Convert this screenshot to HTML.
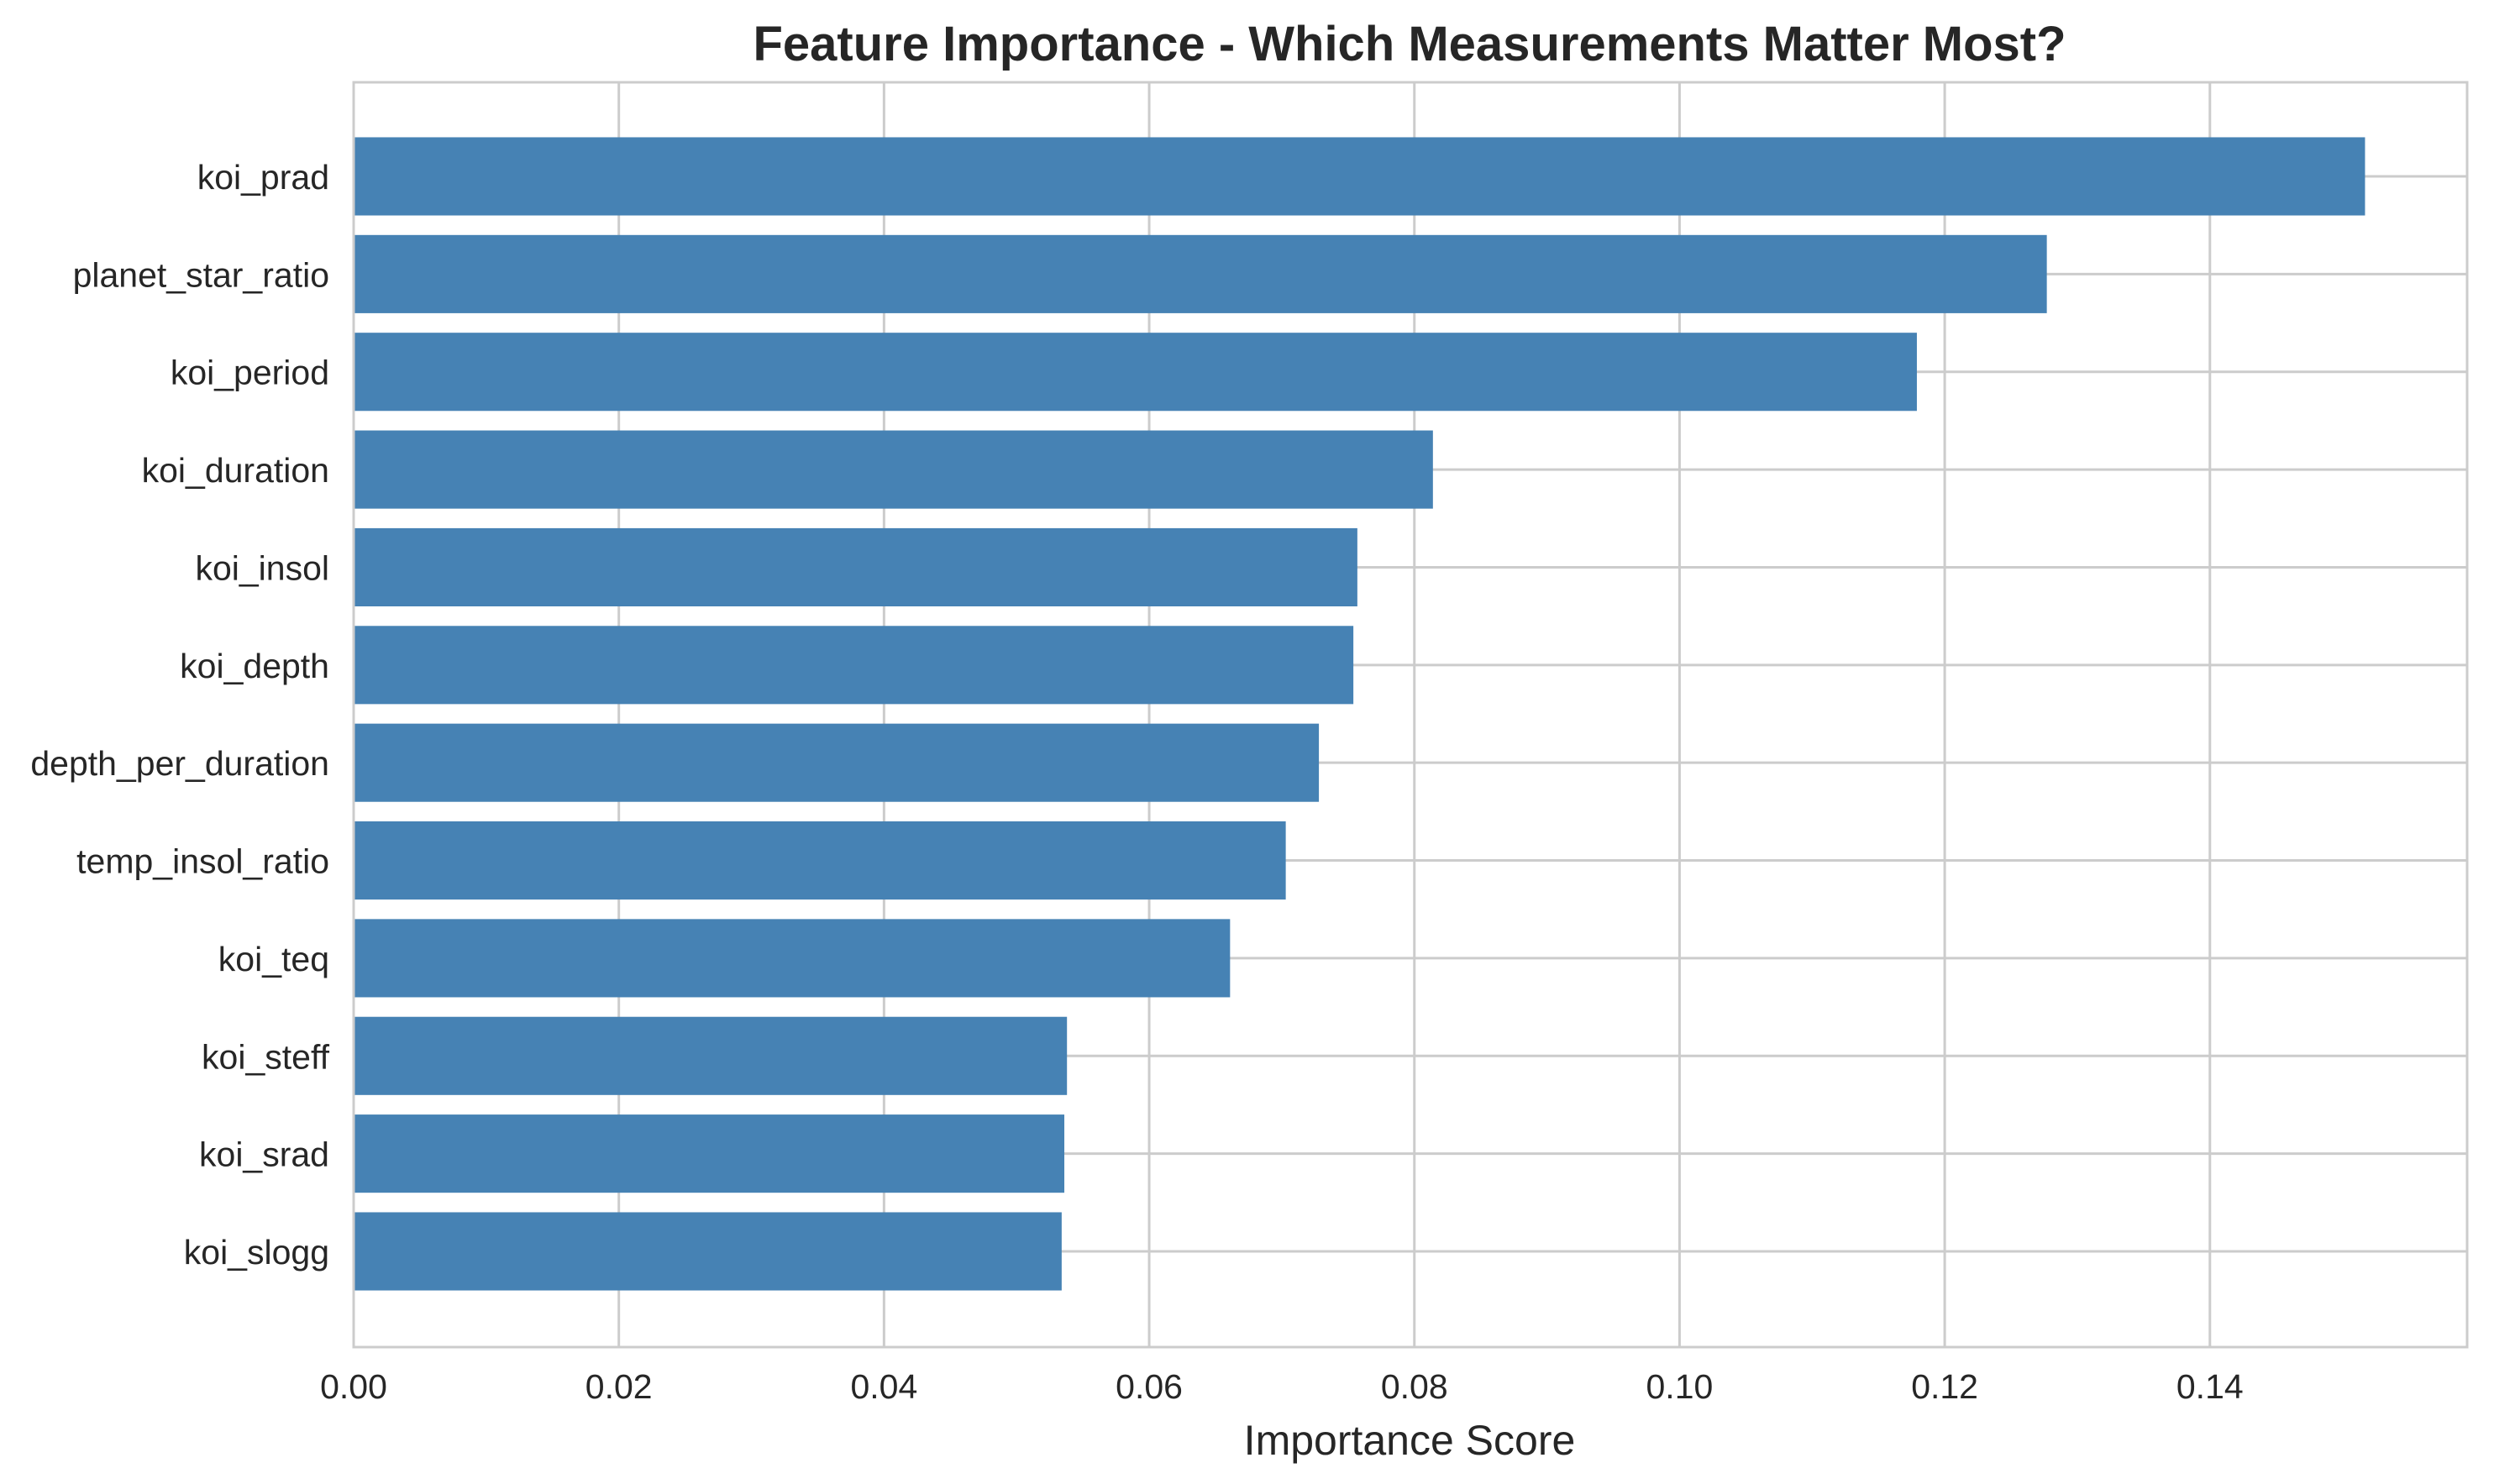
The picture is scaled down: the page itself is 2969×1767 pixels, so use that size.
<!DOCTYPE html>
<html><head><meta charset="utf-8"><style>body{margin:0;background:#fff}svg{display:block}text{font-family:"Liberation Sans",Arial,sans-serif;fill:#262626}</style></head>
<body>
<svg id="chart" width="2969" height="1767" viewBox="0 0 2969 1767" xmlns="http://www.w3.org/2000/svg">
<text x="1678" y="72" text-anchor="middle" font-size="58" font-weight="bold">Feature Importance - Which Measurements Matter Most?</text>
<g id="grid"></g><g id="bars"></g><g id="axes"></g>
<text x="1678" y="1732" text-anchor="middle" font-size="50">Importance Score</text>
</svg>
<script>
const categories=["koi_prad","planet_star_ratio","koi_period","koi_duration","koi_insol","koi_depth","depth_per_duration","temp_insol_ratio","koi_teq","koi_steff","koi_srad","koi_slogg"];
const values=[0.1517,0.1277,0.1179,0.0814,0.0757,0.0754,0.0728,0.0703,0.0661,0.0538,0.0536,0.0534];
const xTicks=[0,0.02,0.04,0.06,0.08,0.10,0.12,0.14];
const xTickLabels=["0.00","0.02","0.04","0.06","0.08","0.10","0.12","0.14"];
const NS="http://www.w3.org/2000/svg";
const L=421,R=2937,T=98,B=1604,xMax=0.1594;
const x=v=>L+v/xMax*(R-L);
const y0=210,step=(1490-210)/11;
const y=i=>y0+i*step;
const bh=step*0.8;
function mk(t,a,p){const e=document.createElementNS(NS,t);for(const k in a)e.setAttribute(k,a[k]);p.appendChild(e);return e;}
const grid=document.getElementById('grid'),bars=document.getElementById('bars'),axes=document.getElementById('axes');
xTicks.forEach((v,i)=>{
 const l=mk('line',{x1:x(v),x2:x(v),y1:T,y2:B,stroke:'#cccccc','stroke-width':3},grid);
 
 
 const t=mk('text',{x:x(v),y:1665,'text-anchor':'middle','font-size':41},axes);
 t.textContent=xTickLabels[i];
 
 
});
categories.forEach((c,i)=>{
 const g=mk('line',{x1:L,x2:R,y1:y(i),y2:y(i),stroke:'#cccccc','stroke-width':3},grid);
 
 
 const r=mk('rect',{x:L,y:y(i)-bh/2,width:x(values[i])-L,height:bh,fill:'#4682b4'},bars);
 
 
 const t=mk('text',{x:392,y:y(i)+15,'text-anchor':'end','font-size':41},axes);
 t.textContent=c;
 
 
});
const f=mk('rect',{x:L,y:T,width:R-L,height:B-T,fill:'none',stroke:'#cccccc','stroke-width':3},axes);


</script>
</body></html>
